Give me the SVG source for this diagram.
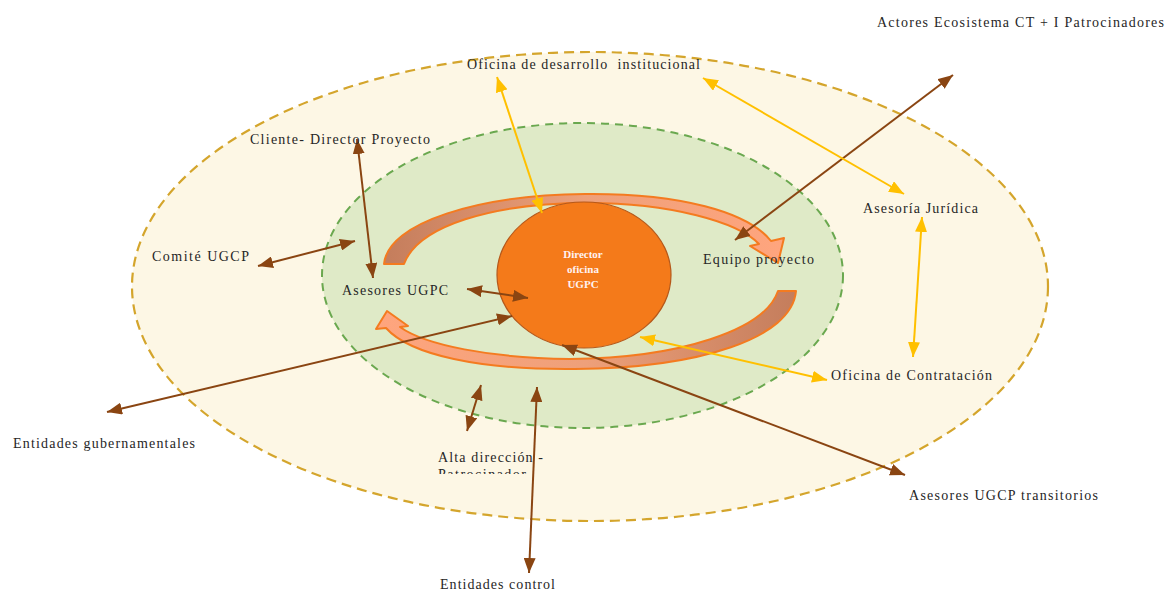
<svg xmlns="http://www.w3.org/2000/svg" width="1167" height="592" viewBox="0 0 1167 592">
  <defs>
    <style>
      .lbl { font-family: "Liberation Serif", "DejaVu Serif", serif; font-size: 14px; fill: #262626; }
      .core { font-family: "Liberation Serif", "DejaVu Serif", serif; font-size: 11px; font-weight: bold; fill: #fff2f2; text-anchor: middle; }
      .brown { stroke: #8a4512; stroke-width: 2; fill: none; marker-start: url(#headBrown); marker-end: url(#headBrown); }
      .gold { stroke: #ffc000; stroke-width: 2; fill: none; marker-start: url(#headGold); marker-end: url(#headGold); }
      .flow { stroke: #f47b20; stroke-width: 2; stroke-linejoin: round; }
    </style>
    <marker id="headBrown" markerUnits="userSpaceOnUse" markerWidth="15" markerHeight="12" refX="15" refY="6" orient="auto-start-reverse">
      <path d="M0,0 L15,6 L0,12 z" fill="#8a4512"/>
    </marker>
    <marker id="headGold" markerUnits="userSpaceOnUse" markerWidth="15" markerHeight="12" refX="15" refY="6" orient="auto-start-reverse">
      <path d="M0,0 L15,6 L0,12 z" fill="#ffc000"/>
    </marker>
    <linearGradient id="gradTop" gradientUnits="userSpaceOnUse" x1="384" y1="0" x2="784" y2="0">
      <stop offset="0" stop-color="#c47d5c"/>
      <stop offset="0.5" stop-color="#eea07a"/>
      <stop offset="1" stop-color="#ffa57e"/>
    </linearGradient>
    <linearGradient id="gradBottom" gradientUnits="userSpaceOnUse" x1="796" y1="0" x2="376" y2="0">
      <stop offset="0" stop-color="#c47d5c"/>
      <stop offset="0.5" stop-color="#eea07a"/>
      <stop offset="1" stop-color="#ffa57e"/>
    </linearGradient>
    <clipPath id="clipAlta">
      <rect x="420" y="440" width="160" height="34"/>
    </clipPath>
  </defs>

  <rect width="1167" height="592" fill="#ffffff"/>

  <!-- outer ring: ecosystem -->
  <g id="ring-outer">
    <ellipse cx="590" cy="286.5" rx="458" ry="234.5" fill="#fdf7e5" stroke="#d4a52c" stroke-width="2.2" stroke-dasharray="10 6"/>
  </g>

  <!-- inner ring: UGPC -->
  <g id="ring-inner">
    <ellipse cx="582.5" cy="275.5" rx="260.5" ry="152.5" fill="#dfeac7" stroke="#6aa84f" stroke-width="2" stroke-dasharray="8 6"/>
  </g>

  <!-- circular flow arrows -->
  <g id="flow-top">
    <path class="flow" fill="url(#gradTop)" d="M 384 264 C 388 222 480 195 585 194 C 680 193 748 212 771 241 L 784 238 L 778 263 L 750 246 L 759 244 C 738 222 670 203 588 203 C 492 203 418 226 404 264 Z"/>
  </g>
  <g id="flow-bottom">
    <path class="flow" fill="url(#gradBottom)" d="M 778 291 L 796 291 C 792 338 700 368 575 369 C 480 370 410 355 386 328 L 376 329 L 387 311 L 408 326 L 400 327 C 425 345 490 358 570 359 C 680 358 765 330 778 291 Z"/>
  </g>

  <!-- core -->
  <g id="director">
    <ellipse cx="584" cy="275" rx="87" ry="73" fill="#f47a1a" stroke="#b5581a" stroke-width="1.2"/>
    <text class="core" x="583" y="258">Director</text>
    <text class="core" x="583" y="273">oficina</text>
    <text class="core" x="583" y="288">UGPC</text>
  </g>

  <!-- connectors -->
  <g id="connectors">
    <line class="brown" x1="357" y1="139" x2="373" y2="278"/>
    <line class="brown" x1="258" y1="266" x2="355" y2="241"/>
    <line class="brown" x1="467" y1="289" x2="528" y2="298"/>
    <line class="brown" x1="107" y1="412" x2="512" y2="316"/>
    <line class="brown" x1="481" y1="385" x2="467" y2="431"/>
    <line class="brown" x1="537" y1="387" x2="529" y2="573"/>
    <line class="brown" x1="905" y1="475" x2="562" y2="345"/>
    <line class="brown" x1="953" y1="75" x2="735" y2="240"/>
    <line class="gold" x1="497" y1="77" x2="542" y2="213"/>
    <line class="gold" x1="703" y1="78" x2="904" y2="194"/>
    <line class="gold" x1="922" y1="217" x2="913" y2="357"/>
    <line class="gold" x1="827" y1="380" x2="640" y2="337"/>
  </g>

  <!-- labels -->
  <g id="actores"><text class="lbl" x="877" y="27" textLength="287" lengthAdjust="spacing">Actores Ecosistema CT + I Patrocinadores</text></g>
  <g id="oficina-desarrollo"><text class="lbl" x="467" y="69" textLength="233" lengthAdjust="spacing" xml:space="preserve">Oficina de desarrollo  institucional</text></g>
  <g id="cliente"><text class="lbl" x="250" y="144" textLength="180" lengthAdjust="spacing">Cliente- Director Proyecto</text></g>
  <g id="comite"><text class="lbl" x="152" y="261" textLength="97" lengthAdjust="spacing">Comité UGCP</text></g>
  <g id="asesores-ugpc"><text class="lbl" x="342" y="295" textLength="106" lengthAdjust="spacing">Asesores UGPC</text></g>
  <g id="equipo"><text class="lbl" x="703" y="264" textLength="111" lengthAdjust="spacing">Equipo proyecto</text></g>
  <g id="juridica"><text class="lbl" x="863" y="213" textLength="115" lengthAdjust="spacing">Asesoría Jurídica</text></g>
  <g id="contratacion"><text class="lbl" x="831" y="380" textLength="161" lengthAdjust="spacing">Oficina de Contratación</text></g>
  <g id="gubernamentales"><text class="lbl" x="13" y="448" textLength="182" lengthAdjust="spacing">Entidades gubernamentales</text></g>
  <g id="alta-direccion" clip-path="url(#clipAlta)">
    <text class="lbl" x="438" y="462" textLength="105" lengthAdjust="spacing">Alta dirección -</text>
    <text class="lbl" x="438" y="479" textLength="88" lengthAdjust="spacing">Patrocinador</text>
  </g>
  <g id="transitorios"><text class="lbl" x="909" y="500" textLength="189" lengthAdjust="spacing">Asesores UGCP transitorios</text></g>
  <g id="control"><text class="lbl" x="440" y="589" textLength="115" lengthAdjust="spacing">Entidades control</text></g>
</svg>
